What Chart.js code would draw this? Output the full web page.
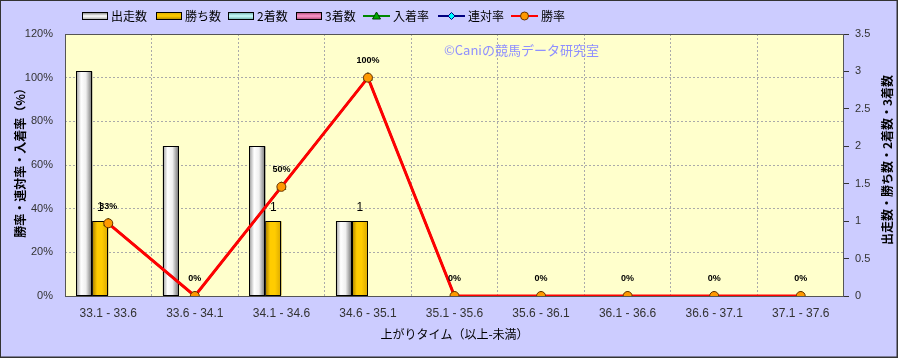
<!DOCTYPE html>
<html>
<head>
<meta charset="utf-8">
<script src="https://cdn.jsdelivr.net/npm/chart.js@4.4.1/dist/chart.umd.min.js"></script>
<style>
  html, body { margin: 0; padding: 0; background: #ccccff; }
  #wrap { width: 898px; height: 358px; position: relative; }
</style>
</head>
<body>
<div id="wrap"><canvas id="chart" width="898" height="358"></canvas></div>
<script>
// data
const labels = ['33.1 - 33.6', '33.6 - 34.1', '34.1 - 34.6', '34.6 - 35.1', '35.1 - 35.6',
                '35.6 - 36.1', '36.1 - 36.6', '36.6 - 37.1', '37.1 - 37.6'];
const runs    = [3, 2, 2, 1, 0, 0, 0, 0, 0];   // 出走数
const wins    = [1, 0, 1, 1, 0, 0, 0, 0, 0];   // 勝ち数
const second  = [0, 0, 0, 0, 0, 0, 0, 0, 0];   // 2着数
const third   = [0, 0, 0, 0, 0, 0, 0, 0, 0];   // 3着数
const placeRate = [33.3, 0, 50, 100, 0, 0, 0, 0, 0]; // 入着率
const quinRate  = [33.3, 0, 50, 100, 0, 0, 0, 0, 0]; // 連対率
const winRate   = [33.3, 0, 50, 100, 0, 0, 0, 0, 0]; // 勝率
const leftTicks = [0, 20, 40, 60, 80, 100, 120];
const rightTicks = [0, 0.5, 1, 1.5, 2, 2.5, 3, 3.5];

const FONT = '"Liberation Sans", Arial, "Noto Sans CJK JP", sans-serif';
const JFONT = '"Noto Sans CJK JP", "Liberation Sans", sans-serif';

// cylinder-like shades for each bar series
const shades = {
    '出走数': ['#9a9a9a', '#ffffff', '#f0f0f0', '#6e6e6e'],
    '勝ち数': ['#a67c00', '#ffcc00', '#ffcc00', '#d9a800'],
    '2着数': ['#5f9e9e', '#ccffff', '#b8eeee', '#5f9e9e'],
    '3着数': ['#9e3f6a', '#ff99cc', '#ee88bb', '#9e3f6a']
};

function barSet(label, data, color) {
    return {
        type: 'bar', label: label, data: data, yAxisID: 'y1',
        backgroundColor: color, borderColor: '#000', borderWidth: 1,
        barPercentage: 1, categoryPercentage: 0.74, order: 10
    };
}

const bgPlugin = {
    id: 'bg',
    beforeDraw(chart) {
        const c = chart.ctx, a = chart.chartArea;
        c.save();
        c.fillStyle = '#ccccff';
        c.fillRect(0, 0, chart.width, chart.height);
        c.fillStyle = '#ffffcc';
        c.fillRect(a.left, a.top, a.right - a.left, a.bottom - a.top);
        c.restore();
    },
    afterDatasetDraw(chart, args) {
        const ds = chart.data.datasets[args.index];
        const sh = shades[ds.label];
        if (ds.type !== 'bar' || !sh) return;
        const c = chart.ctx;
        c.save();
        args.meta.data.forEach(bar => {
            const p = bar.getProps(['x', 'y', 'base', 'width'], true);
            const h = p.base - p.y;
            if (h <= 0) return;
            const x0 = p.x - p.width / 2;
            const g = c.createLinearGradient(x0, 0, x0 + p.width, 0);
            g.addColorStop(0, sh[0]);
            g.addColorStop(0.3, sh[1]);
            g.addColorStop(0.6, sh[2]);
            g.addColorStop(1, sh[3]);
            c.fillStyle = g;
            c.fillRect(x0, p.y, p.width, h);
            c.strokeStyle = '#000';
            c.lineWidth = 1;
            c.strokeRect(Math.round(x0) + 0.5, Math.round(p.y) + 0.5, Math.round(p.width) - 1, Math.round(h));
        });
        c.restore();
    },
    afterDatasetsDraw(chart) {
        const c = chart.ctx, a = chart.chartArea;
        c.save();
        // plot frame
        c.strokeStyle = '#555';
        c.lineWidth = 1;
        c.strokeRect(a.left + 0.5, a.top + 0.5, a.right - a.left - 1, a.bottom - a.top);

        // value labels: 勝ち数 bars (non-zero) and 勝率 points
        c.fillStyle = '#000';
        c.textAlign = 'center';
        c.textBaseline = 'middle';
        const winMeta = chart.getDatasetMeta(1);
        c.font = '12px ' + FONT;
        winMeta.data.forEach((bar, i) => {
            if (!wins[i]) return;
            c.fillText(String(wins[i]), bar.x, bar.y - 13);
        });
        const rateMeta = chart.getDatasetMeta(6);
        c.font = 'bold 9px ' + FONT;
        rateMeta.data.forEach((pt, i) => {
            c.fillText(Math.round(winRate[i]) + '%', pt.x, pt.y - 17);
        });

        // watermark
        c.fillStyle = '#8f8fff';
        c.textAlign = 'left';
        c.font = '13px ' + JFONT;
        c.fillText('©Caniの競馬データ研究室', 444, 50);

        // axis titles
        c.fillStyle = '#000';
        c.textAlign = 'center';
        c.font = '12px ' + JFONT;
        c.fillText('上がりタイム（以上-未満）', (a.left + a.right) / 2, 334);
        c.font = 'bold 12px ' + JFONT;
        c.save();
        c.translate(20, 160);
        c.rotate(-Math.PI / 2);
        c.fillText('勝率・連対率・入着率（%）', 0, 0);
        c.restore();
        c.save();
        c.translate(887, 160);
        c.rotate(-Math.PI / 2);
        c.fillText('出走数・勝ち数・2着数・3着数', 0, 0);
        c.restore();

        // legend
        const ly = 16;
        c.font = '12px ' + JFONT;
        c.textAlign = 'left';
        const boxes = [['出走数', 82], ['勝ち数', 156], ['2着数', 228], ['3着数', 296]];
        boxes.forEach(([name, x]) => {
            const sh = shades[name];
            const g = c.createLinearGradient(0, ly - 4, 0, ly + 4);
            g.addColorStop(0, sh[3]);
            g.addColorStop(0.5, sh[1]);
            g.addColorStop(1, sh[0]);
            c.fillStyle = g;
            c.fillRect(x, ly - 4, 26, 8);
            c.strokeStyle = '#000';
            c.lineWidth = 1;
            c.strokeRect(x + 0.5, ly - 3.5, 25, 7);
            c.fillStyle = '#000';
            c.fillText(name, x + 29, ly);
        });
        const lines = [['入着率', 363, '#008800', 'tri', '#00aa00'], ['連対率', 438, '#000080', 'dia', '#00ffff'],
                       ['勝率', 511, '#ff0000', 'circ', '#ff9900']];
        lines.forEach(([name, x, col, shape, fill]) => {
            c.strokeStyle = col;
            c.lineWidth = 2;
            c.beginPath();
            c.moveTo(x, ly);
            c.lineTo(x + 27, ly);
            c.stroke();
            const mx = x + 13.5;
            c.fillStyle = fill;
            c.lineWidth = 1;
            c.strokeStyle = shape === 'circ' ? '#663300' : (shape === 'tri' ? '#004400' : '#000080');
            c.beginPath();
            if (shape === 'tri') {
                c.moveTo(mx, ly - 4); c.lineTo(mx + 4, ly + 3); c.lineTo(mx - 4, ly + 3); c.closePath();
            } else if (shape === 'dia') {
                c.moveTo(mx, ly - 3.5); c.lineTo(mx + 3.5, ly); c.lineTo(mx, ly + 3.5); c.lineTo(mx - 3.5, ly); c.closePath();
            } else {
                c.arc(mx, ly, 4, 0, Math.PI * 2);
            }
            c.fill();
            c.stroke();
            c.fillStyle = '#000';
            c.fillText(name, x + 30, ly);
        });

        // outer frame
        c.strokeStyle = '#333';
        c.lineWidth = 1;
        c.strokeRect(0.5, 0.5, chart.width - 1.5, chart.height - 1.5);
        c.beginPath();
        c.moveTo(chart.width - 0.5, 0); c.lineTo(chart.width - 0.5, chart.height);
        c.moveTo(0, chart.height - 0.5); c.lineTo(chart.width, chart.height - 0.5);
        c.stroke();
        c.restore();
    }
};

const ctx = document.getElementById('chart').getContext('2d');
new Chart(ctx, {
    data: {
        labels: labels,
        datasets: [
            barSet('出走数', runs, '#e0e0e0'),
            barSet('勝ち数', wins, '#ffcc00'),
            barSet('2着数', second, '#ccffff'),
            barSet('3着数', third, '#ff99cc'),
            {
                type: 'line', label: '入着率', data: placeRate, yAxisID: 'y',
                borderColor: '#008800', borderWidth: 2,
                pointStyle: 'triangle', pointRadius: 5, pointBackgroundColor: '#00aa00',
                pointBorderColor: '#004400', pointBorderWidth: 1, tension: 0, order: 3
            },
            {
                type: 'line', label: '連対率', data: quinRate, yAxisID: 'y',
                borderColor: '#000080', borderWidth: 2,
                pointStyle: 'rectRot', pointRadius: 4, pointBackgroundColor: '#00ffff',
                pointBorderColor: '#000080', pointBorderWidth: 1, tension: 0, order: 2
            },
            {
                type: 'line', label: '勝率', data: winRate, yAxisID: 'y',
                borderColor: '#ff0000', borderWidth: 3,
                pointStyle: 'circle', pointRadius: 4.5, pointBackgroundColor: '#ff9900',
                pointBorderColor: '#663300', pointBorderWidth: 1, tension: 0, order: 1
            }
        ]
    },
    options: {
        responsive: false,
        animation: false,
        layout: { padding: { top: 34, left: 0, right: 0, bottom: 0 } },
        plugins: {
            legend: { display: false },
            tooltip: { enabled: false }
        },
        scales: {
            x: {
                offset: true,
                grid: { offset: true, color: '#aaaaaa', drawTicks: false },
                border: { display: false, dash: [2, 2] },
                ticks: { color: '#333', font: { size: 12, family: FONT }, padding: 10, maxRotation: 0, autoSkip: false },
                afterFit(scale) { scale.height = 62; }
            },
            y: {
                position: 'left', min: 0, max: 120,
                afterBuildTicks(scale) { scale.ticks = leftTicks.map(v => ({ value: v })); },
                grid: { color: '#aaaaaa', drawTicks: false },
                border: { display: false, dash: [2, 2] },
                ticks: { color: '#333', font: { size: 11, family: FONT }, padding: 12,
                         callback: v => v + '%' },
                afterFit(scale) { scale.width = 65; }
            },
            y1: {
                position: 'right', min: 0, max: 3.5,
                afterBuildTicks(scale) { scale.ticks = rightTicks.map(v => ({ value: v })); },
                grid: { drawOnChartArea: false, drawTicks: true, tickLength: 5, color: '#333' },
                border: { display: false },
                ticks: { color: '#333', font: { size: 11, family: FONT }, padding: 6,
                         callback: v => String(v) },
                afterFit(scale) { scale.width = 54; }
            }
        }
    },
    plugins: [bgPlugin]
});
</script>
</body>
</html>
